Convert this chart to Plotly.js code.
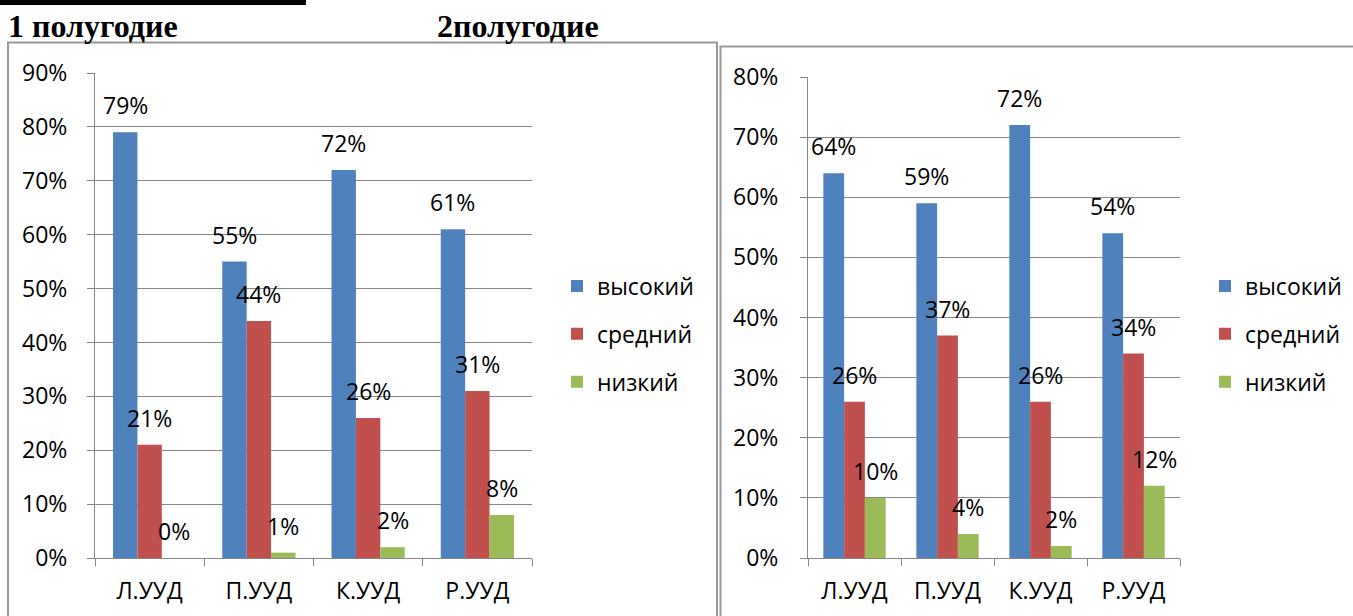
<!DOCTYPE html>
<html>
<head>
<meta charset="utf-8">
<script src="https://cdn.plot.ly/plotly-3.0.1.min.js"></script>
<style>
html,body{margin:0;padding:0;background:#fff;}
#chart{width:1353px;height:616px;}
</style>
</head>
<body>
<div id="chart"></div>
<script>
// ---- data ----
const categories = ["Л.УУД", "П.УУД", "К.УУД", "Р.УУД"];
const seriesNames = ["высокий", "средний", "низкий"];
const half1High = [0.79, 0.55, 0.72, 0.61];
const half1Mid  = [0.21, 0.44, 0.26, 0.31];
const half1Low  = [0.00, 0.01, 0.02, 0.08];
const half2High = [0.64, 0.59, 0.72, 0.54];
const half2Mid  = [0.26, 0.37, 0.26, 0.34];
const half2Low  = [0.10, 0.04, 0.02, 0.12];
const heading1 = "1 полугодие";
const heading2 = "2полугодие";

const colors = ["#4F81BD", "#C0504D", "#9BBB59"];
const W = 1353, H = 616;
const BARGAP = 0.33;
const FS = 23;
const font = "Open Sans, Noto Sans, DejaVu Sans, sans-serif";

const half1 = [half1High, half1Mid, half1Low];
const half2 = [half2High, half2Mid, half2Low];

const traces = [];
const annotations = [];
function addGroup(vals, xa, ya, legendId, tag) {
  vals.forEach((v, s) => {
    traces.push({
      type: "bar", x: categories, y: v, name: seriesNames[s],
      marker: {color: colors[s]}, xaxis: xa, yaxis: ya,
      showlegend: true, legend: legendId, legendgroup: tag + s, hoverinfo: "skip"
    });
    const bw = (1 - BARGAP) / vals.length;
    v.forEach((val, i) => {
      annotations.push({
        xref: xa, yref: ya, x: i + (s - (vals.length - 1) / 2) * bw, y: val,
        text: Math.round(val * 100) + "%", showarrow: false,
        yshift: 27, yanchor: "middle", xanchor: "center",
        font: {family: font, size: FS, color: "#000"}
      });
    });
  });
}
addGroup(half1, "x", "y", "legend", "a");
addGroup(half2, "x2", "y2", "legend2", "b");

const py = p => 1 - p / H;
const px = p => p / W;

const axisCommon = {
  showline: true, linecolor: "#868686", linewidth: 1,
  ticks: "outside", ticklen: 7, tickcolor: "#868686",
  tickfont: {family: font, size: FS, color: "#000"}, fixedrange: true
};

const headFont = {family: "Liberation Serif, Times New Roman, serif", size: 32, color: "#000"};
annotations.push(
  {xref: "paper", yref: "paper", x: px(6), y: py(26), xanchor: "left", yanchor: "middle",
   text: "<b>" + heading1 + "</b>", showarrow: false, font: headFont},
  {xref: "paper", yref: "paper", x: px(435), y: py(26), xanchor: "left", yanchor: "middle",
   text: "<b>" + heading2 + "</b>", showarrow: false, font: headFont}
);

const legendCommon = {
  xanchor: "left", yanchor: "middle",
  font: {family: font, size: FS, color: "#000"}, tracegroupgap: 15,
  itemsizing: "constant", bgcolor: "rgba(0,0,0,0)", traceorder: "grouped"
};

const layout = {
  width: W, height: H, margin: {l: 0, r: 0, t: 0, b: 0},
  paper_bgcolor: "#fff", plot_bgcolor: "rgba(0,0,0,0)",
  barmode: "group", bargap: BARGAP, bargroupgap: 0,
  font: {family: font, color: "#000"},
  xaxis: Object.assign({}, axisCommon, {domain: [px(95), px(532)], anchor: "y",
    type: "category", tickson: "boundaries", ticklabelstandoff: 12}),
  yaxis: Object.assign({}, axisCommon, {domain: [py(558), py(73)], anchor: "x",
    range: [0, 0.9], dtick: 0.1, tickformat: ".0%", showgrid: true, gridcolor: "#868686",
    gridwidth: 1, zeroline: false, ticklabelstandoff: 15}),
  xaxis2: Object.assign({}, axisCommon, {domain: [px(808), px(1180)], anchor: "y2",
    type: "category", tickson: "boundaries", ticklabelstandoff: 12}),
  yaxis2: Object.assign({}, axisCommon, {domain: [py(558), py(77)], anchor: "x2",
    range: [0, 0.8], dtick: 0.1, tickformat: ".0%", showgrid: true, gridcolor: "#868686",
    gridwidth: 1, zeroline: false, ticklabelstandoff: 17}),
  legend: Object.assign({}, legendCommon, {x: px(557), y: py(334)}),
  legend2: Object.assign({}, legendCommon, {x: px(1205), y: py(334)}),
  annotations: annotations,
  shapes: [
    {type: "rect", xref: "paper", yref: "paper", x0: 0, x1: px(306), y0: py(5), y1: py(0),
     fillcolor: "#000", line: {width: 0}},
    {type: "path", xref: "paper", yref: "paper",
     path: `M ${px(8)} ${py(640)} L ${px(8)} ${py(42.5)} L ${px(717)} ${py(42.5)} L ${px(717)} ${py(640)}`,
     line: {color: "#999", width: 2}},
    {type: "path", xref: "paper", yref: "paper",
     path: `M ${px(720.5)} ${py(640)} L ${px(720.5)} ${py(46.5)} L ${px(1360)} ${py(46.5)}`,
     line: {color: "#999", width: 2}}
  ]
};

Plotly.newPlot("chart", traces, layout, {staticPlot: true, displayModeBar: false});
</script>
</body>
</html>
